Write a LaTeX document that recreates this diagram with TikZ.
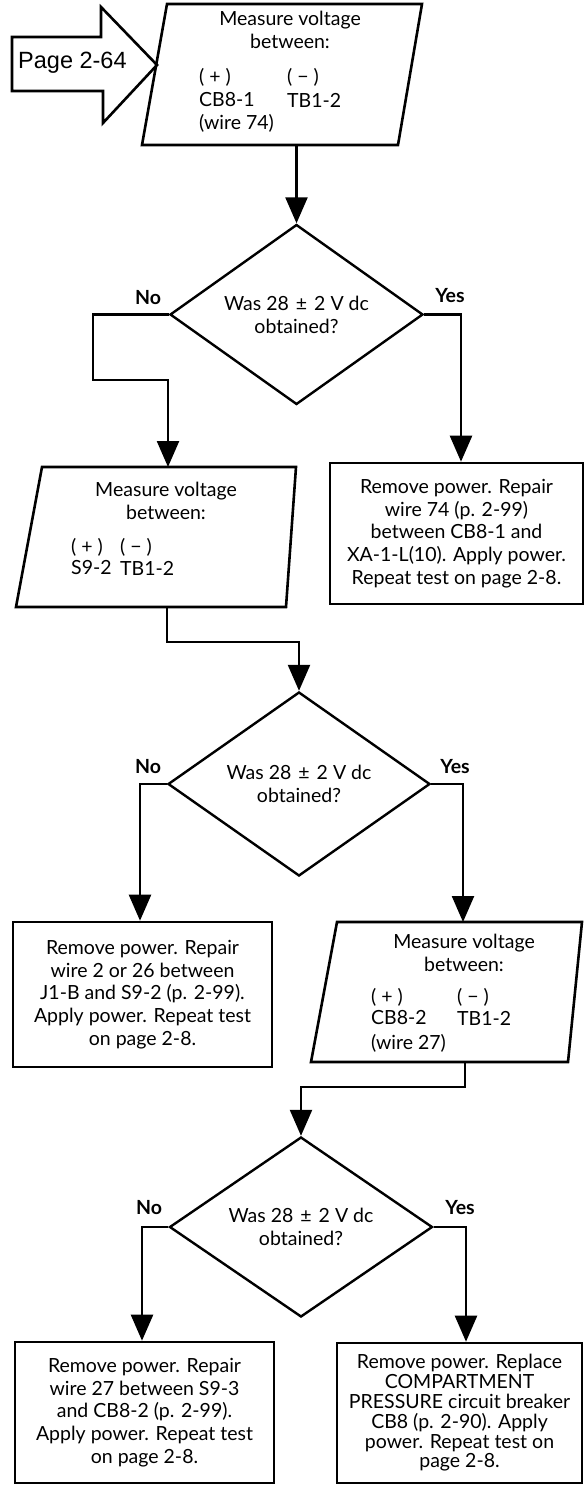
\documentclass[tikz,border=0pt]{standalone}
\usepackage{fontspec}
\setmainfont{Lato}
\newfontfamily\arialfont{Liberation Sans}
\usetikzlibrary{arrows.meta,shapes.geometric}
\newcommand\flowtxt{\fontsize{19.5}{22.8}\selectfont}
\newcommand\flowtxtb{\fontsize{19.5}{22.8}\selectfont\bfseries}
\newcommand\plusm{(\hspace{5pt}+\hspace{5pt})}
\newcommand\minusm{(\hspace{5pt}−\hspace{5pt})}
\begin{document}
\begin{tikzpicture}[x=1pt,y=-1pt,
  shapeline/.style={draw=black, line width=2.6pt, line join=miter},
  procbox/.style={draw=black, line width=2.6pt, rectangle, inner sep=0pt, align=center, font=\flowtxt},
  decision/.style={draw=black, line width=2.4pt, diamond, inner sep=0pt, aspect=1.4, align=center, font=\flowtxt},
  lbl/.style={inner sep=0pt, font=\flowtxt, anchor=west},
  ctr/.style={inner sep=0pt, font=\flowtxt, align=center},
  ans/.style={inner sep=0pt, font=\flowtxtb},
  flow/.style={draw=black, line width=2.4pt, -{Triangle[length=26pt,width=22pt]}},
]
\fill[white] (0,0) rectangle (584,1485);
\useasboundingbox (0,0) rectangle (584,1485);

% entry arrow
\draw[shapeline] (12,37) -- (101,37) -- (101,7) -- (157,65) -- (103,123) -- (103,91) -- (12,91) -- cycle;
\node[font=\arialfont\fontsize{23.5}{28}\selectfont, inner sep=0pt, anchor=west] (pg) at (18,63) {Page 2-64};

% first measurement
\coordinate (p1a) at (167,4);
\coordinate (p1b) at (422,4);
\coordinate (p1c) at (398,145);
\coordinate (p1d) at (142,145);
\draw[shapeline] (p1a) -- (p1b) -- (p1c) -- (p1d) -- cycle;
\node[ctr] (p1h) at (290,30) {Measure voltage\\between:};
\node[lbl] (p1pp) at (199,77) {\plusm};
\node[lbl] (p1mm) at (287,77) {\minusm};
\node[lbl] (p1p) at (199,100) {CB8-1};
\node[lbl] (p1m) at (287,100) {TB1-2};
\node[lbl] (p1w) at (199,123) {(wire 74)};
\coordinate (p1out) at (296.5,145);

% decision 1
\node[decision, minimum width=253pt, minimum height=180pt] (d1) at (296.5,314.5) {Was 28\hspace{7pt}±\hspace{7pt}2 V dc\\obtained?};
\draw[flow] (p1out) -- (d1.north);
\node[ans] (no1) at (148,298) {No};
\node[ans] (yes1) at (450,296) {Yes};

\node[procbox, minimum width=253pt, minimum height=141pt] (r1) at (456.5,533.5)
  {Remove power. Repair\\wire 74 (p. 2-99)\\between CB8-1 and\\XA-1-L(10). Apply power.\\Repeat test on page 2-8.};

% second measurement
\coordinate (p2a) at (42,467);
\coordinate (p2b) at (296,467);
\coordinate (p2c) at (286,607);
\coordinate (p2d) at (16,607);
\draw[shapeline] (p2a) -- (p2b) -- (p2c) -- (p2d) -- cycle;
\node[ctr] (p2h) at (166,501) {Measure voltage\\between:};
\node[lbl] (p2pp) at (71,547) {\plusm};
\node[lbl] (p2mm) at (120,547) {\minusm};
\node[lbl] (p2p) at (71,568) {S9-2};
\node[lbl] (p2m) at (120,568) {TB1-2};
\coordinate (p2in) at (168,467);
\coordinate (p2out) at (167,607);

\coordinate (n1a) at (93,314.5);
\coordinate (n1b) at (93,380);
\coordinate (n1c) at (168,380);
\draw[flow] (d1.west) -- (n1a) -- (n1b) -- (n1c) -- (p2in);
\coordinate (y1a) at (461,314.5);
\draw[flow] (d1.east) -- (y1a) -- (y1a |- r1.north);

% decision 2
\node[decision, minimum width=262pt, minimum height=184pt] (d2) at (299,784) {Was 28\hspace{7pt}±\hspace{7pt}2 V dc\\obtained?};
\coordinate (c2a) at (167,642);
\coordinate (c2b) at (299,642);
\draw[flow] (p2out) -- (c2a) -- (c2b) -- (d2.north);
\node[ans] (no2) at (148,767) {No};
\node[ans] (yes2) at (455,767) {Yes};

\node[procbox, minimum width=259pt, minimum height=145pt] (l2) at (142.5,994.5)
  {Remove power. Repair\\wire 2 or 26 between\\J1-B and S9-2 (p. 2-99).\\Apply power. Repeat test\\on page 2-8.};
\coordinate (n2a) at (140,784);
\draw[flow] (d2.west) -- (n2a) -- (n2a |- l2.north);

% third measurement
\coordinate (p3a) at (337,922);
\coordinate (p3b) at (582,922);
\coordinate (p3c) at (568,1062);
\coordinate (p3d) at (311,1062);
\draw[shapeline] (p3a) -- (p3b) -- (p3c) -- (p3d) -- cycle;
\node[ctr] (p3h) at (464,952.5) {Measure voltage\\between:};
\node[lbl] (p3pp) at (371,997) {\plusm};
\node[lbl] (p3mm) at (457,997) {\minusm};
\node[lbl] (p3p) at (371,1018) {CB8-2};
\node[lbl] (p3m) at (457,1018) {TB1-2};
\node[lbl] (p3w) at (371,1043) {(wire 27)};
\coordinate (p3in) at (463,922);
\coordinate (p3out) at (465,1062);
\coordinate (y2a) at (463,784);
\draw[flow] (d2.east) -- (y2a) -- (p3in);

% decision 3
\node[decision, minimum width=263pt, minimum height=180pt] (d3) at (301,1227) {Was 28\hspace{7pt}±\hspace{7pt}2 V dc\\obtained?};
\coordinate (c3a) at (465,1087);
\coordinate (c3b) at (301,1087);
\draw[flow] (p3out) -- (c3a) -- (c3b) -- (d3.north);
\node[ans] (no3) at (149,1208) {No};
\node[ans] (yes3) at (460,1208) {Yes};

\node[procbox, minimum width=259pt, minimum height=141pt] (l3) at (144.5,1412.5)
  {Remove power. Repair\\wire 27 between S9-3\\and CB8-2 (p. 2-99).\\Apply power. Repeat test\\on page 2-8.};
\node[procbox, minimum width=245pt, minimum height=140pt, font=\fontsize{19.5}{19.8}\selectfont] (r3) at (459.5,1413)
  {Remove power. Replace\\COMPARTMENT\\PRESSURE circuit breaker\\CB8 (p. 2-90). Apply\\power. Repeat test on\\page 2-8.};
\coordinate (n3a) at (142,1227);
\draw[flow] (d3.west) -- (n3a) -- (n3a |- l3.north);
\coordinate (y3a) at (466,1227);
\draw[flow] (d3.east) -- (y3a) -- (y3a |- r3.north);
\end{tikzpicture}
\end{document}
